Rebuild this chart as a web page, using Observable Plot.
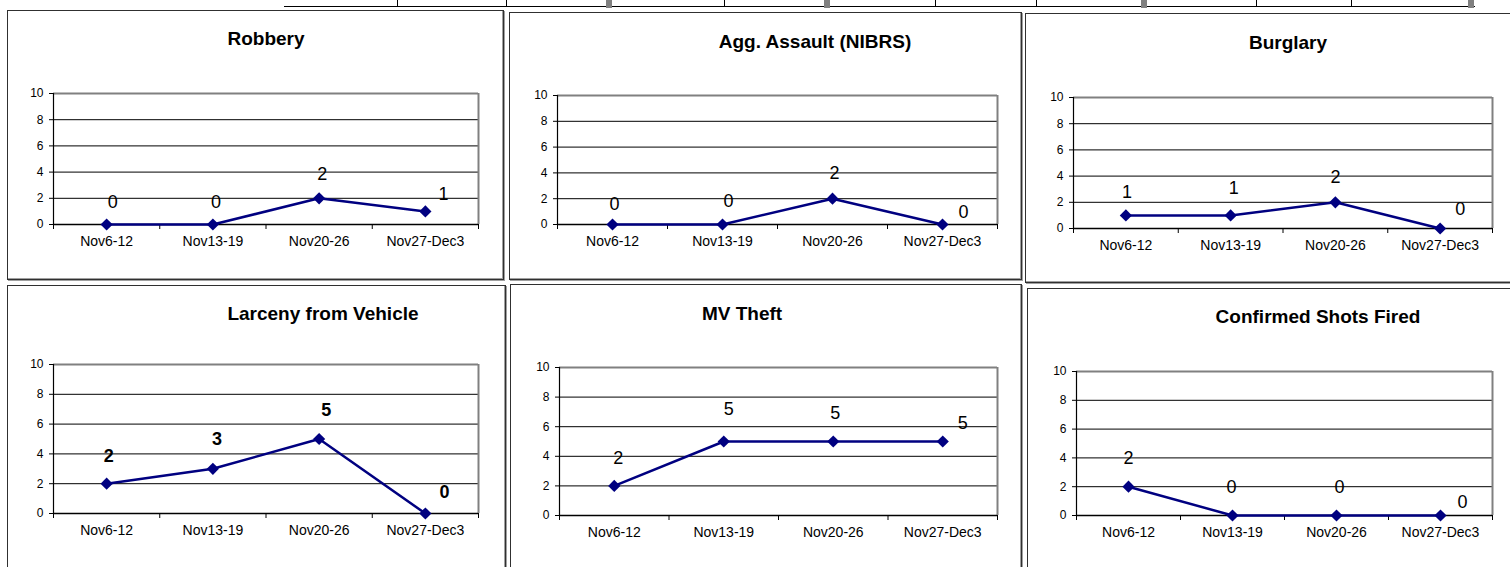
<!DOCTYPE html>
<html>
<head>
<meta charset="utf-8">
<script src="https://cdn.jsdelivr.net/npm/d3@7"></script>
<script src="https://cdn.jsdelivr.net/npm/@observablehq/plot@0.6"></script>
<style>
  html, body { margin: 0; padding: 0; background: #fff; overflow: hidden; }
  #root { position: relative; width: 1510px; height: 567px; overflow: hidden; font-family: "Liberation Sans", Arial, sans-serif; }
  .box { position: absolute; box-sizing: border-box; border: 1px solid #303030; box-shadow: inset -1px -1px 0 #a0a0a0, 1px 1px 0 #a0a0a0; }
  .title { position: absolute; transform: translate(-50%, -50%); font-weight: bold; font-size: 19px; white-space: nowrap; color: #000; }
  .chart { position: absolute; }
  .hline { position: absolute; background: #000; }
  .gsq { position: absolute; background: #808080; }
</style>
</head>
<body>
<div id="root"></div>
<script>
// ---- data ----
const weeks = ["Nov6-12", "Nov13-19", "Nov20-26", "Nov27-Dec3"];
const robbery = [0, 0, 2, 1];
const aggAssault = [0, 0, 2, 0];
const burglary = [1, 1, 2, 0];
const larcenyFromVehicle = [2, 3, 5, 0];
const mvTheft = [2, 5, 5, 5];
const shotsFired = [2, 0, 0, 0];
const titles = ["Robbery", "Agg. Assault (NIBRS)", "Burglary", "Larceny from Vehicle", "MV Theft", "Confirmed Shots Fired"];
const seriesList = [robbery, aggAssault, burglary, larcenyFromVehicle, mvTheft, shotsFired];
const yTicks = [0, 2, 4, 6, 8, 10];

// ---- layout (positions only) ----
const layout = [
  {box: [7, 10, 504, 280],   plot: [53, 93, 478, 224],    title: [266, 39],  off: [[6,-22],[3,-22],[3,-24],[18,-17]], bold: false},
  {box: [509, 12, 1022, 280], plot: [557, 95, 997, 224],  title: [815, 42],  off: [[2,-20],[6,-23],[2,-25],[21,-12]], bold: false},
  {box: [1025, 13, 1515, 283], plot: [1073, 97, 1492, 228], title: [1288, 43], off: [[1,-23],[3,-27],[0,-25],[20,-19]], bold: false},
  {box: [7, 285, 506, 580],  plot: [53, 364, 478, 513],   title: [323, 314], off: [[2,-27],[4,-30],[7,-29],[19,-21]], bold: true},
  {box: [510, 284, 1022, 580], plot: [559, 367, 997, 515], title: [742, 314], off: [[4,-28],[5,-32],[2,-28],[20,-18]], bold: false},
  {box: [1027, 288, 1515, 580], plot: [1076, 371, 1492, 515], title: [1318, 317], off: [[0,-28],[-1,-28],[3,-28],[22,-13]], bold: false}
];

const root = document.getElementById("root");

// top table fragment (decoration)
function addDiv(cls, l, t, w, h) {
  const d = document.createElement("div");
  d.className = cls;
  Object.assign(d.style, {left: l + "px", top: t + "px", width: w + "px", height: h + "px"});
  root.appendChild(d);
}
addDiv("hline", 284, 6, 1191, 1);
[397, 506, 724, 935, 1036, 1256, 1351].forEach(x => addDiv("hline", x, 0, 1, 7));
[606, 824, 1141, 1468].forEach(x => addDiv("gsq", x, 0, 6, 8));

seriesList.forEach((vals, p) => {
  const L = layout[p];
  const [bl, bt, br, bb] = L.box;
  const [pl, pt, pr, pb] = L.plot;
  addDiv("box", bl, bt, br - bl, bb - bt);

  const t = document.createElement("div");
  t.className = "title";
  t.textContent = titles[p];
  t.style.left = L.title[0] + "px";
  t.style.top = L.title[1] + "px";
  root.appendChild(t);

  const data = vals.map((v, i) => ({x: i + 0.5, v, label: String(v), week: weeks[i]}));

  const labelMarks = data.map((d, i) => Plot.text([d], {
    x: "x", y: "v", text: "label",
    dx: L.off[i][0], dy: L.off[i][1],
    fontSize: 18, fontWeight: L.bold ? "bold" : "normal", fill: "#000"
  }));

  const chart = Plot.plot({
    width: br - bl,
    height: bb - bt,
    marginLeft: pl - bl,
    marginTop: pt - bt,
    marginRight: br - pr,
    marginBottom: bb - pb,
    x: {domain: [0, 4], label: null},
    y: {domain: [0, 10], label: null},
    style: {fontFamily: '"Liberation Sans", Arial, sans-serif', color: "#000", background: "transparent", overflow: "visible"},
    marks: [
      Plot.ruleY([2, 4, 6, 8], {stroke: "#000", strokeWidth: 1}),
      Plot.ruleY([10], {stroke: "#808080", strokeWidth: 2}),
      Plot.ruleX([4], {stroke: "#808080", strokeWidth: 2}),
      Plot.ruleX([0], {stroke: "#000", strokeWidth: 1.2}),
      Plot.ruleY([0], {stroke: "#000", strokeWidth: 1.5}),
      Plot.axisY({ticks: yTicks, label: null, tickSize: 4, tickPadding: 6, fontSize: 12, stroke: "#000", strokeOpacity: 1}),
      Plot.axisX({ticks: [0, 1, 2, 3, 4], label: null, tickSize: 5, tickFormat: () => "", stroke: "#000", strokeOpacity: 1}),
      Plot.axisX({ticks: [0.5, 1.5, 2.5, 3.5], label: null, tickSize: 0, tickPadding: 12, fontSize: 14, tickFormat: d => weeks[Math.floor(d)]}),
      Plot.line(data, {x: "x", y: "v", stroke: "#000080", strokeWidth: 2.5}),
      Plot.dot(data, {x: "x", y: "v", symbol: "diamond2", fill: "#000080", stroke: "none", r: 5.5}),
      ...labelMarks
    ]
  });
  chart.classList.add("chart");
  chart.style.left = bl + "px";
  chart.style.top = bt + "px";
  root.appendChild(chart);
});
</script>
</body>
</html>
